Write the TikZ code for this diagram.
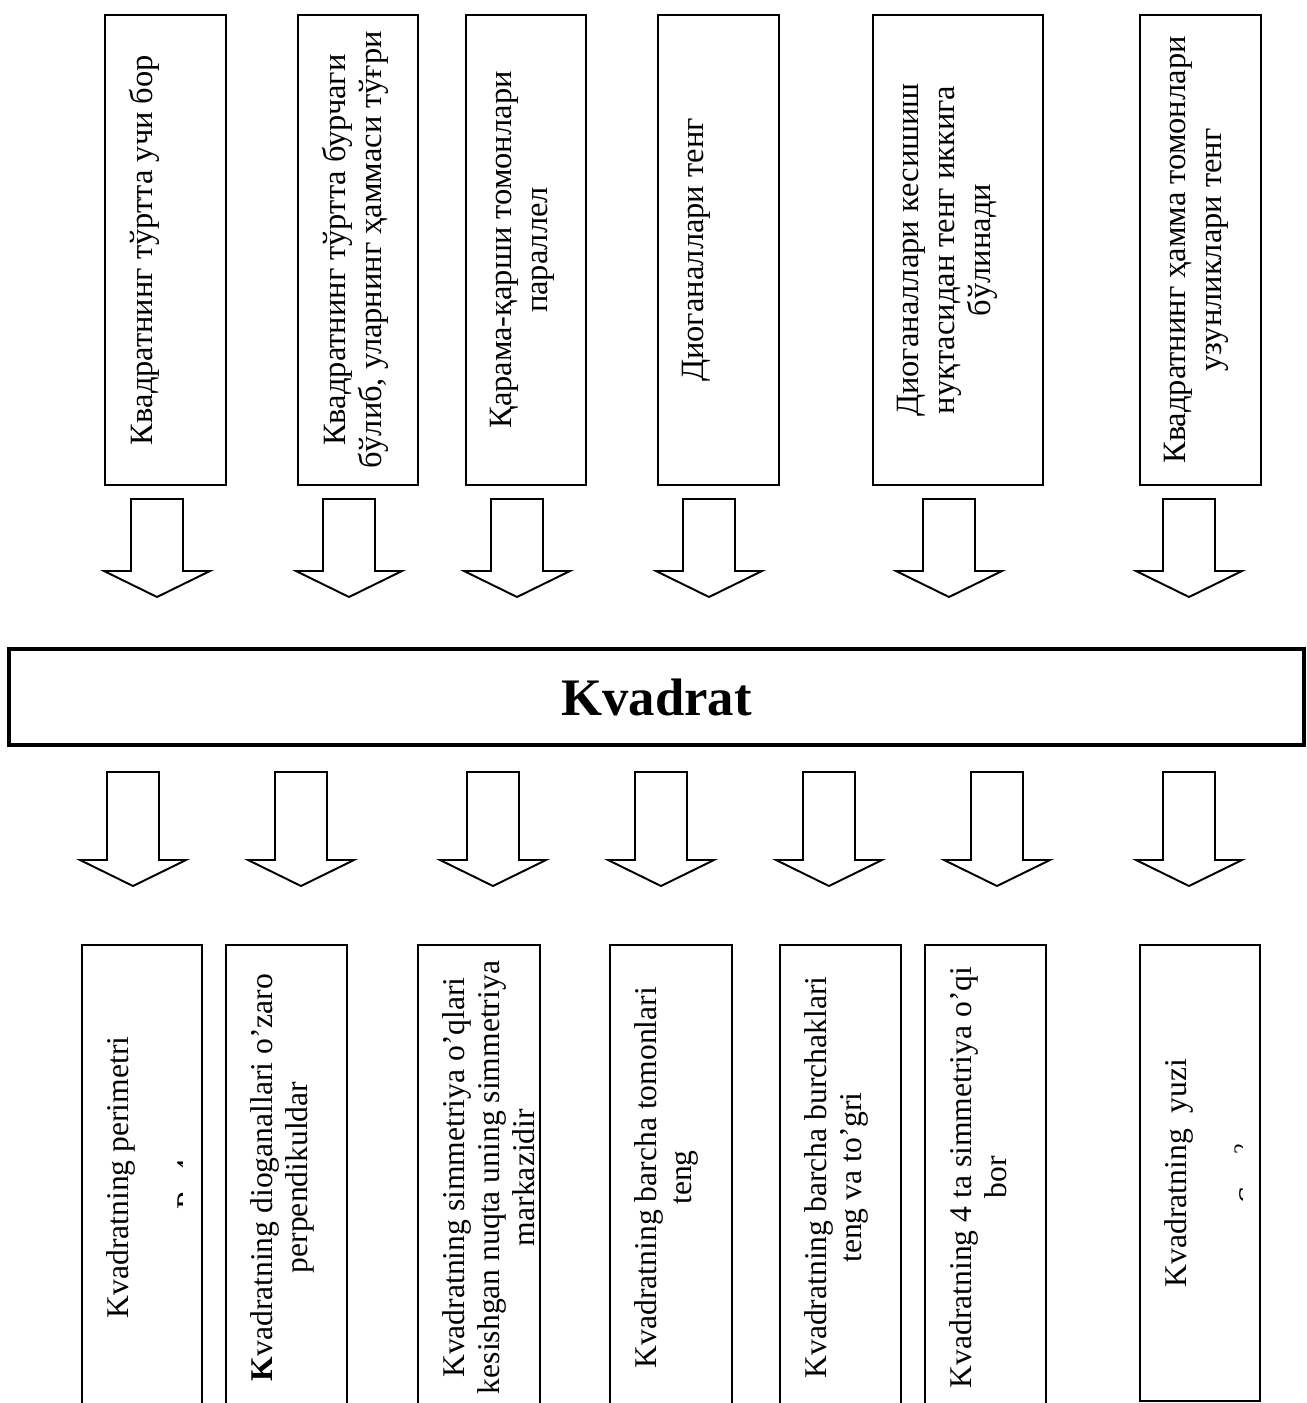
\documentclass[tikz,border=0pt]{standalone}
\usepackage{fontspec}
\setmainfont{Liberation Serif}
\tikzset{
BoiteHaut/.style={
 draw=black,
 line width=1.1pt,
 rotate=90,
 minimum width=9.4cm,
 inner sep=0pt
 },
BoiteBas/.style={
 draw=black,
 line width=1.1pt,
 rotate=90,
 minimum width=9.3cm,
 inner sep=0pt
 },
BoiteCentre/.style={
 draw=black,
 line width=2.3pt,
 minimum width=25.9cm,
 minimum height=1.92cm,
 font=\fontsize{30}{36}\selectfont\bfseries
 },
TexteHaut/.style={
 rotate=90,
 anchor=north,
 align=center,
 inner sep=0.5cm,
 font=\fontsize{18.5}{20.5}\selectfont
 },
TexteBas/.style={
 rotate=90,
 anchor=north,
 align=center,
 inner sep=0.5cm,
 font=\fontsize{18}{20}\selectfont
 },
Formule/.style={
 rotate=90,
 anchor=north,
 inner sep=0pt,
 font=\fontsize{18}{20}\selectfont
 },
pics/BlocFleche/.style={code={
 \draw[line width=1.1pt, fill=white] (-26,0) -- (26,0) -- (26,#1) -- (53,#1)
  -- (0,{#1+26}) -- (-53,#1) -- (-26,#1) -- cycle;
 }}
}
\begin{document}
\begin{tikzpicture}[x=0.02cm,y=-0.02cm]
\useasboundingbox (0,0) rectangle (1306,1403);
\clip (0,0) rectangle (1306,1403);
% proprietes du haut
\node[BoiteHaut, minimum height=2.42cm] (haut1) at (165.5,250) {};
\node[TexteHaut] (txthaut1) at (haut1.north) {Квадратнинг тўртта учи бор};
\node[BoiteHaut, minimum height=2.4cm] (haut2) at (358,250) {};
\node[TexteHaut] (txthaut2) at (haut2.north) {Квадратнинг тўртта бурчаги\\бўлиб, уларнинг ҳаммаси тўғри};
\node[BoiteHaut, minimum height=2.4cm] (haut3) at (526,250) {};
\node[TexteHaut] (txthaut3) at (haut3.north) {Қарама-қарши томонлари\\параллел};
\node[BoiteHaut, minimum height=2.42cm] (haut4) at (718.5,250) {};
\node[TexteHaut] (txthaut4) at (haut4.north) {Диоганаллари тенг};
\node[BoiteHaut, minimum height=3.4cm] (haut5) at (958,250) {};
\node[TexteHaut] (txthaut5) at (haut5.north) {Диоганаллари кесишиш\\нуқтасидан тенг иккига\\бўлинади};
\node[BoiteHaut, minimum height=2.42cm] (haut6) at (1200.5,250) {};
\node[TexteHaut] (txthaut6) at (haut6.north) {Квадратнинг ҳамма томонлари\\узунликлари тенг};
\pic at (157,499) {BlocFleche=72};
\pic at (349,499) {BlocFleche=72};
\pic at (517,499) {BlocFleche=72};
\pic at (709,499) {BlocFleche=72};
\pic at (949,499) {BlocFleche=72};
\pic at (1189,499) {BlocFleche=72};
% le carre
\node[BoiteCentre] (kvadrat) at (656.5,697) {Kvadrat};
\pic at (133,772) {BlocFleche=88};
\pic at (301,772) {BlocFleche=88};
\pic at (493,772) {BlocFleche=88};
\pic at (661,772) {BlocFleche=88};
\pic at (829,772) {BlocFleche=88};
\pic at (997,772) {BlocFleche=88};
\pic at (1189,772) {BlocFleche=88};
% proprietes du bas
\node[BoiteBas, minimum height=2.4cm] (bas1) at (142,1177.5) {};
\node[TexteBas] (txtbas1) at (bas1.north) {Kvadratning perimetri};
\node[BoiteBas, minimum height=2.42cm] (bas2) at (286.5,1177.5) {};
\node[TexteBas] (txtbas2) at (bas2.north) {\textbf{K}vadratning dioganallari o’zaro\\perpendikuldar};
\node[BoiteBas, minimum height=2.44cm] (bas3) at (479,1177.5) {};
\node[TexteBas] (txtbas3) at (bas3.north) {Kvadratning simmetriya o’qlari\\kesishgan nuqta uning simmetriya\\markazidir};
\node[BoiteBas, minimum height=2.44cm] (bas4) at (671,1177.5) {};
\node[TexteBas] (txtbas4) at (bas4.north) {Kvadratning barcha tomonlari\\teng};
\node[BoiteBas, minimum height=2.42cm] (bas5) at (840.5,1177.5) {};
\node[TexteBas] (txtbas5) at (bas5.north) {Kvadratning barcha burchaklari\\teng va to’gri};
\node[BoiteBas, minimum height=2.42cm] (bas6) at (985.5,1177.5) {};
\node[TexteBas] (txtbas6) at (bas6.north) {Kvadratning 4 ta simmetriya o’qi\\bor};
\node[BoiteBas, minimum height=2.4cm, minimum width=9.12cm] (bas7) at (1200,1173) {};
\node[TexteBas] (txtbas7) at (bas7.north) {Kvadratning\ \ yuzi};
% formules coupees
\begin{scope}
\clip (150,1100) rectangle (182,1260);
\node[Formule] (perimetre) at (177,1177) {P=4a};
\end{scope}
\begin{scope}
\clip (1215,1100) rectangle (1242,1260);
\node[Formule] (aire) at (1234,1173) {S=a\textsuperscript{2}};
\end{scope}
\end{tikzpicture}
\end{document}
